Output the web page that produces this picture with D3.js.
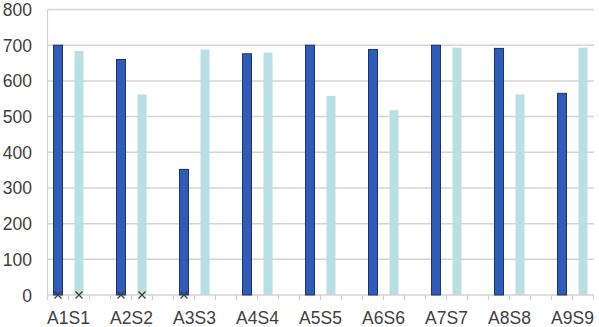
<!DOCTYPE html>
<html>
<head>
<meta charset="utf-8">
<script src="https://cdn.jsdelivr.net/npm/d3@7"></script>
<style>
body { margin: 0; background: #fff; }
text { font-family: "Liberation Sans", Arial, sans-serif; fill: #404040; }
</style>
</head>
<body>
<svg width="599" height="327"></svg>
<script>
var categories = ["A1S1", "A2S2", "A3S3", "A4S4", "A5S5", "A6S6", "A7S7", "A8S8", "A9S9"];
var seriesA = [700, 660, 352, 676, 700, 688, 700, 691, 565];
var seriesS = [684, 562, 688, 679, 558, 518, 693, 562, 693];
// zero markers (x) shown under some bars
var markA = [0, 0, 0, null, null, null, null, null, null];
var markS = [0, 0, null, null, null, null, null, null, null];
var yTicks = [0, 100, 200, 300, 400, 500, 600, 700, 800];

var svg = d3.select("svg"),
    plotLeft = 47.5,
    plotRight = 594,
    plotTop = 9.5,
    plotBottom = 295;

// each category takes three slots: A bar, S bar, empty
var slots = [];
categories.forEach(function(c) { slots.push(c + "|A", c + "|S", c + "|-"); });

var x = d3.scaleBand()
    .domain(slots)
    .range([plotLeft, plotLeft + 21 * slots.length])
    .padding(0);

var y = d3.scaleLinear()
    .domain([0, 800])
    .range([plotBottom, plotTop]);

// gridlines
svg.append("g").selectAll("line")
    .data(yTicks)
    .enter().append("line")
    .attr("x1", plotLeft).attr("x2", plotRight)
    .attr("y1", function(d) { return y(d); })
    .attr("y2", function(d) { return y(d); })
    .attr("stroke", "#d4d4d4")
    .attr("stroke-width", 1.5);

// vertical axis line
svg.append("line")
    .attr("x1", plotLeft).attr("x2", plotLeft)
    .attr("y1", y(800)).attr("y2", plotBottom + 4)
    .attr("stroke", "#d4d4d4")
    .attr("stroke-width", 1.2);

// x tick marks at slot boundaries
var bounds = slots.map(function(s) { return x(s); }).filter(function(v) { return v <= plotRight; });
svg.append("g").selectAll("line")
    .data(bounds)
    .enter().append("line")
    .attr("x1", function(d) { return d; }).attr("x2", function(d) { return d; })
    .attr("y1", plotBottom).attr("y2", plotBottom + 5)
    .attr("stroke", "#cfcfcf")
    .attr("stroke-width", 1.2);

// y labels
svg.append("g").selectAll("text")
    .data(yTicks)
    .enter().append("text")
    .attr("x", 32)
    .attr("y", function(d) { return y(d) + 6.5; })
    .attr("text-anchor", "end")
    .attr("font-size", 17.5)
    .text(function(d) { return d; });

// x labels, centred between the two bars
svg.append("g").selectAll("text")
    .data(categories)
    .enter().append("text")
    .attr("x", function(d) { return x(d + "|S"); })
    .attr("y", 324)
    .attr("text-anchor", "middle")
    .attr("font-size", 17.5)
    .text(function(d) { return d; });

// light bars
svg.append("g").selectAll("rect")
    .data(seriesS)
    .enter().append("rect")
    .attr("x", function(d, i) { return x(categories[i] + "|S") + x.bandwidth() / 2 - 4.5; })
    .attr("y", function(d) { return y(d); })
    .attr("width", 9)
    .attr("height", function(d) { return plotBottom - y(d); })
    .attr("fill", "#b8dfe3");

// dark bars
svg.append("g").selectAll("rect")
    .data(seriesA)
    .enter().append("rect")
    .attr("x", function(d, i) { return x(categories[i] + "|A") + x.bandwidth() / 2 - 4.5; })
    .attr("y", function(d) { return y(d); })
    .attr("width", 9)
    .attr("height", function(d) { return plotBottom - y(d); })
    .attr("fill", "#2f5cb8")
    .attr("stroke", "#1b3470")
    .attr("stroke-width", 1);

// x markers
function markers(arr, key) {
    var pts = [];
    arr.forEach(function(v, i) {
        if (v !== null) pts.push({ cx: x(categories[i] + key) + x.bandwidth() / 2, cy: y(v) });
    });
    svg.append("g").selectAll("path")
        .data(pts)
        .enter().append("path")
        .attr("d", function(p) {
            return "M" + (p.cx - 3.5) + "," + (p.cy - 3.5) + "L" + (p.cx + 3.5) + "," + (p.cy + 3.5) +
                   "M" + (p.cx - 3.5) + "," + (p.cy + 3.5) + "L" + (p.cx + 3.5) + "," + (p.cy - 3.5);
        })
        .attr("stroke", "#3a3a3a")
        .attr("stroke-width", 1.2)
        .attr("fill", "none");
}
markers(markA, "|A");
markers(markS, "|S");
</script>
</body>
</html>
